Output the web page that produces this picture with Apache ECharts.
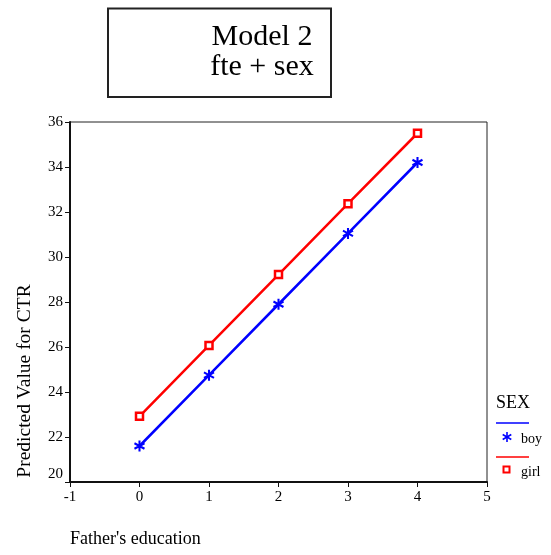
<!DOCTYPE html>
<html>
<head>
<meta charset="utf-8">
<script src="https://cdn.jsdelivr.net/npm/echarts@6/dist/echarts.min.js"></script>
<style>
html,body{margin:0;padding:0;background:#fff;}
#chart{width:551px;height:555px;}
</style>
</head>
<body>
<div id="chart"></div>
<script>
// Data
var fatherEducation = [0, 1, 2, 3, 4];
var boyValues = [21.6, 24.75, 27.9, 31.05, 34.2];
var girlValues = [22.92, 26.07, 29.22, 32.37, 35.5];
var seriesNames = ['boy', 'girl'];
var titleLines = ['Model 2', 'fte + sex'];
var xAxisTitle = "Father's education";
var yAxisTitle = 'Predicted Value for CTR';
var legendTitle = 'SEX';

var FONT = '"Liberation Serif", "Times New Roman", serif';
var ASTER = 'M4.1,0 L5.9,0 L5.9,10 L4.1,10 Z M1.0,1.7 L9.8,6.7 L8.9,8.3 L0.2,3.3 Z M0.2,6.7 L8.9,1.7 L9.8,3.3 L1.0,8.3 Z';

function pairs(xs, ys) { return xs.map(function (x, i) { return [x, ys[i]]; }); }

var chart = echarts.init(document.getElementById('chart'), null, {renderer: 'canvas'});
var option = {
  backgroundColor: '#fff',
  animation: false,
  grid: {
    left: 70, right: 64, top: 122, bottom: 73,
    show: true, borderColor: '#222', borderWidth: 1, backgroundColor: 'transparent'
  },
  xAxis: {
    type: 'value', min: -1, max: 5, interval: 1,
    axisLine: {show: true, onZero: false, lineStyle: {color: '#111', width: 2}},
    axisTick: {show: true, inside: false, length: 5, lineStyle: {color: '#111', width: 1}},
    axisLabel: {color: '#000', fontFamily: FONT, fontSize: 15, margin: 8},
    splitLine: {show: false}
  },
  yAxis: {
    type: 'value', min: 20, max: 36, interval: 2,
    axisLine: {show: true, onZero: false, lineStyle: {color: '#111', width: 2}},
    axisTick: {show: true, inside: false, length: 5, lineStyle: {color: '#111', width: 1}},
    axisLabel: {
      color: '#000', fontFamily: FONT, fontSize: 15, margin: 7,
      formatter: function (v) { return v === 20 ? '{lo|20}' : String(v); },
      rich: {lo: {fontFamily: FONT, fontSize: 15, color: '#000', padding: [0, 0, 16, 0]}}
    },
    splitLine: {show: false}
  },
  series: [
    {
      name: seriesNames[0], type: 'line', data: pairs(fatherEducation, boyValues),
      symbol: 'path://' + ASTER, symbolSize: 11,
      lineStyle: {color: '#0000ff', width: 2.5},
      itemStyle: {color: '#0000ff'}
    },
    {
      name: seriesNames[1], type: 'line', data: pairs(fatherEducation, girlValues),
      symbol: 'rect', symbolSize: 7,
      lineStyle: {color: '#ff0000', width: 2.5},
      itemStyle: {color: '#ffffff', borderColor: '#ff0000', borderWidth: 2.5}
    }
  ],
  graphic: [
    {type: 'rect', shape: {x: 108, y: 8.5, width: 223, height: 88.5},
     style: {fill: '#fff', stroke: '#222', lineWidth: 2}},
    {type: 'text', x: 262, y: 37,
     style: {text: titleLines[0], font: '30px ' + FONT, fill: '#000', textAlign: 'center', textVerticalAlign: 'middle'}},
    {type: 'text', x: 262, y: 67,
     style: {text: titleLines[1], font: '30px ' + FONT, fill: '#000', textAlign: 'center', textVerticalAlign: 'middle'}},
    {type: 'text', x: 70, y: 539,
     style: {text: xAxisTitle, font: '18px ' + FONT, fill: '#000', textAlign: 'left', textVerticalAlign: 'middle'}},
    {type: 'text', x: 25, y: 381, rotation: Math.PI / 2,
     style: {text: yAxisTitle, font: '19.5px ' + FONT, fill: '#000', textAlign: 'center', textVerticalAlign: 'middle'}},
    // legend
    {type: 'text', x: 496, y: 403,
     style: {text: legendTitle, font: '18px ' + FONT, fill: '#000', textAlign: 'left', textVerticalAlign: 'middle'}},
    {type: 'line', shape: {x1: 496, y1: 423, x2: 529, y2: 423}, style: {stroke: '#0000ff', lineWidth: 1.5}},
    {type: 'line', shape: {x1: 507, y1: 432, x2: 507, y2: 442}, style: {stroke: '#0000ff', lineWidth: 1.6}},
    {type: 'line', shape: {x1: 502.7, y1: 434.5, x2: 511.3, y2: 439.5}, style: {stroke: '#0000ff', lineWidth: 1.6}},
    {type: 'line', shape: {x1: 502.7, y1: 439.5, x2: 511.3, y2: 434.5}, style: {stroke: '#0000ff', lineWidth: 1.6}},
    {type: 'text', x: 521, y: 439,
     style: {text: seriesNames[0], font: '14px ' + FONT, fill: '#000', textAlign: 'left', textVerticalAlign: 'middle'}},
    {type: 'line', shape: {x1: 496, y1: 457, x2: 529, y2: 457}, style: {stroke: '#ff0000', lineWidth: 1.5}},
    {type: 'rect', shape: {x: 503.5, y: 466.5, width: 6, height: 6},
     style: {fill: '#fff', stroke: '#ff0000', lineWidth: 2}},
    {type: 'text', x: 521, y: 472,
     style: {text: seriesNames[1], font: '14px ' + FONT, fill: '#000', textAlign: 'left', textVerticalAlign: 'middle'}}
  ]
};
chart.setOption(option);
</script>
</body>
</html>
